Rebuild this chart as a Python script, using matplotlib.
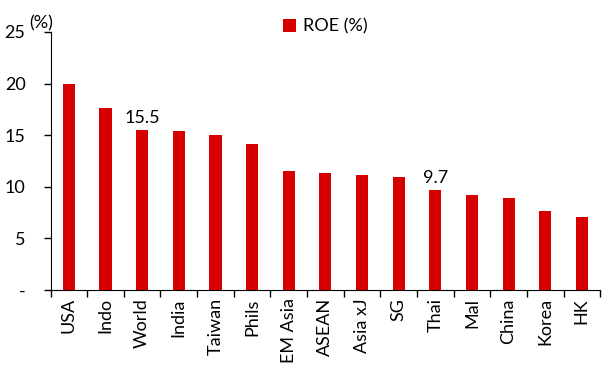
import matplotlib.pyplot as plt
import numpy as np

# data
countries = ['USA', 'Indo', 'World', 'India', 'Taiwan', 'Phils', 'EM Asia', 'ASEAN',
             'Asia xJ', 'SG', 'Thai', 'Mal', 'China', 'Korea', 'HK']
roe = [20.0, 17.6, 15.5, 15.4, 15.0, 14.1, 11.5, 11.3, 11.1, 10.9, 9.7, 9.2, 8.9, 7.6, 7.1]
labelled = {'World': '15.5', 'Thai': '9.7'}
yticks = [0, 5, 10, 15, 20, 25]
ytick_labels = ['-', '5', '10', '15', '20', '25']

plt.rcParams['font.family'] = ['Lato', 'DejaVu Sans']
red = '#D70000'
fs = 13

fig = plt.figure(figsize=(6.02, 3.67), dpi=100)
ax = fig.add_axes([0.084, 0.21, 0.913, 0.703])

x = np.arange(len(countries))
ax.bar(x, roe, width=0.33, color=red, label='ROE (%)')

for i, c in enumerate(countries):
    if c in labelled:
        ax.text(i, roe[i] + 0.4, labelled[c], ha='center', va='bottom', fontsize=fs)

ax.set_xlim(-0.5, len(countries) - 0.5)
ax.set_ylim(0, 25)
ax.set_yticks(yticks)
ax.set_yticklabels(ytick_labels, fontsize=fs)
ax.tick_params(axis='y', direction='out', length=5, width=1, pad=13)

# category labels centred, tick marks between categories
ax.set_xticks(x)
ax.set_xticklabels(countries, rotation=90, fontsize=fs)
ax.tick_params(axis='x', length=0, pad=6)
ax.set_xticks(np.arange(-0.5, len(countries)), minor=True)
ax.tick_params(axis='x', which='minor', direction='out', length=5, width=1)

for s in ['top', 'right']:
    ax.spines[s].set_visible(False)
ax.spines['left'].set_color('black')
ax.spines['bottom'].set_color('black')

ax.text(-0.038, 1.0, '(%)', transform=ax.transAxes, ha='left', va='bottom', fontsize=fs)

ax.legend(loc='upper center', bbox_to_anchor=(0.5, 1.115), frameon=False, fontsize=fs,
          handlelength=0.7, handleheight=0.7, handletextpad=0.4)

fig.savefig('out.png', dpi=100)
